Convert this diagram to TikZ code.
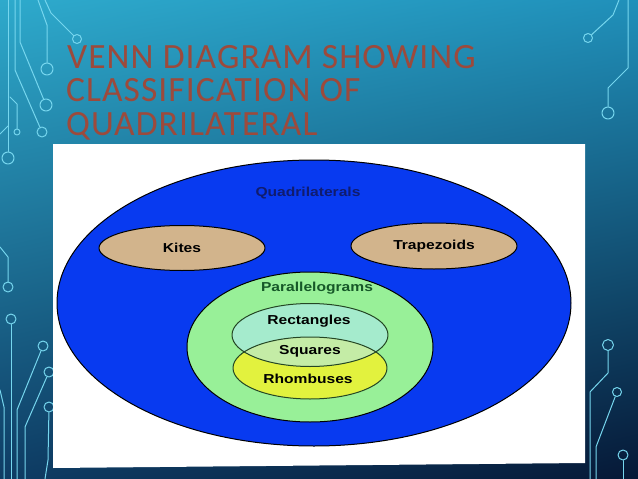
\documentclass[tikz,border=0pt]{standalone}
\usepackage{fontspec}
\usetikzlibrary{shapes.geometric,shadings}
\newfontfamily\titlefont[LetterSpace=3]{Carlito}
\newfontfamily\vennfont[FakeStretch=1.2]{Liberation Sans}
\definecolor{bgul}{RGB}{46,170,204}
\definecolor{bgur}{RGB}{32,144,186}
\definecolor{bgll}{RGB}{14,60,100}
\definecolor{bglr}{RGB}{6,24,54}
\definecolor{wire}{RGB}{118,214,238}
\definecolor{titlered}{RGB}{156,74,60}
\definecolor{quadblue}{RGB}{8,58,240}
\definecolor{quadnavy}{RGB}{16,28,110}
\definecolor{kitetan}{RGB}{210,180,140}
\definecolor{paragreen}{RGB}{152,240,152}
\definecolor{paradark}{RGB}{22,88,40}
\definecolor{rectaqua}{RGB}{165,235,205}
\definecolor{sqgreen}{RGB}{196,236,166}
\definecolor{rhomyellow}{RGB}{226,242,62}
\definecolor{rim}{RGB}{36,70,36}

\begin{document}
\begin{tikzpicture}[line cap=round,line join=round,x=1pt,y=-1pt,
	setshape/.style={ellipse,line width=1pt,inner sep=0pt},
	settext/.style={font=\vennfont\bfseries\fontsize{13}{15}\selectfont,inner sep=0pt},
	titletext/.style={anchor=base west,inner sep=0pt,text=titlered,font=\titlefont\fontsize{35.5}{40}\selectfont},
	wirepath/.style={draw=wire,line width=1pt},
	pad/.style={circle,draw=wire,line width=1pt,inner sep=0pt}]
		\useasboundingbox (0,0) rectangle (638,479);
		\clip(0,0) rectangle (638,479);
		\shade [shading=bilinear interpolation,upper left=bgul,upper right=bgur,lower left=bgll,lower right=bglr] (0,0) rectangle (638,479);
		% circuit wires, left
		\node [pad,minimum size=12pt] (pa) at (8,158) {};
		\node [pad,minimum size=10pt] (pb) at (42,132) {};
		\node [pad,minimum size=12pt] (pc) at (46,105) {};
		\node [pad,minimum size=12pt] (pd) at (47,69) {};
		\node [pad,minimum size=9pt] (pe) at (77,39) {};
		\node [pad,minimum size=6pt] (pf) at (17,132) {};
		\node [pad,minimum size=10pt] (pg) at (8,287) {};
		\node [pad,minimum size=10pt] (ph) at (11,319) {};
		\node [pad,minimum size=10pt] (pi) at (43,346) {};
		\node [pad,minimum size=10pt] (pj) at (49,372) {};
		\node [pad,minimum size=10pt] (pk) at (49,407) {};
		\draw [wirepath] (8,0) -- (pa);
		\draw [wirepath] (15,0) -- (15,70) -- (pb);
		\draw [wirepath] (20,0) -- (20,42) -- (pc);
		\draw [wirepath] (38,0) -- (47,25) -- (pd);
		\draw [wirepath] (45,0) -- (51,13) -- (pe);
		\draw [wirepath] (10,97) -- (17,104) -- (pf);
		\draw [wirepath] (0,134) -- (8,126);
		\draw [wirepath] (0,247) -- (8,257) -- (pg);
		\draw [wirepath] (ph) -- (11,479);
		\draw [wirepath] (pi) -- (17,410) -- (17,479);
		\draw [wirepath] (pj) -- (25,427) -- (25,479);
		\draw [wirepath] (pk) -- (48,460) -- (45,479);
		\draw [wirepath] (0,390) -- (4,407) -- (4,479);
		% circuit wires, right
		\node [pad,minimum size=9pt] (pl) at (588,38) {};
		\node [pad,minimum size=12pt] (pm) at (608,113) {};
		\node [pad,minimum size=11pt] (pn) at (608,345) {};
		\node [pad,minimum size=9pt] (po) at (617,392) {};
		\node [pad,minimum size=10pt] (pp) at (623,455) {};
		\draw [wirepath] (619,0) -- (613,15) -- (pl);
		\draw [wirepath] (628,0) -- (628,68) -- (608,88) -- (pm);
		\draw [wirepath] (pn) -- (608,373) -- (590,392) -- (590,479);
		\draw [wirepath] (po) -- (596,447) -- (596,479);
		\draw [wirepath] (pp) -- (623,479);
		% title
		\node [titletext] (title1) at (67,68) {VENN DIAGRAM SHOWING};
		\node [titletext] (title2) at (66,101) {CLASSIFICATION OF};
		\node [titletext] (title3) at (66,135) {QUADRILATERAL};
		% white panel
		\fill [white] (53,144) -- (585,144) -- (585,463) -- (53,468) -- cycle;
		% venn sets
		\node [setshape,draw=black,fill=quadblue,minimum width=514pt,minimum height=286pt] (quad) at (314,303) {};
		\node [setshape,draw=black,fill=kitetan,minimum width=166pt,minimum height=45pt,settext] (kites) at (182,248) {Kites};
		\node [setshape,draw=black,fill=kitetan,minimum width=166pt,minimum height=46pt,settext] (trap) at (434,246) {Trapezoids};
		\node [setshape,draw=black,fill=paragreen,minimum width=246pt,minimum height=150pt] (para) at (310,347) {};
		\node [setshape,fill=rhomyellow,minimum width=154pt,minimum height=62pt] (rhomb) at (310,368) {};
		\node [setshape,fill=rectaqua,minimum width=156pt,minimum height=63pt] (rect) at (310,335) {};
		\begin{scope}
			\clip (rhomb.center) ellipse (77pt and 31pt);
			\fill [sqgreen] (rect.center) ellipse (78pt and 31.5pt);
		\end{scope}
		\draw [rim,line width=1pt] (rhomb.center) ellipse (77pt and 31pt);
		\draw [rim,line width=1pt] (rect.center) ellipse (78pt and 31.5pt);
		% labels
		\node [settext,text=quadnavy] (quadlabel) at (308,193) {Quadrilaterals};
		\node [settext,text=paradark] (paralabel) at (317,288) {Parallelograms};
		\node [settext] (rectlabel) at (309,321) {Rectangles};
		\node [settext] (sqlabel) at (310,351) {Squares};
		\node [settext] (rhomlabel) at (308,379) {Rhombuses};
\end{tikzpicture}
\end{document}
